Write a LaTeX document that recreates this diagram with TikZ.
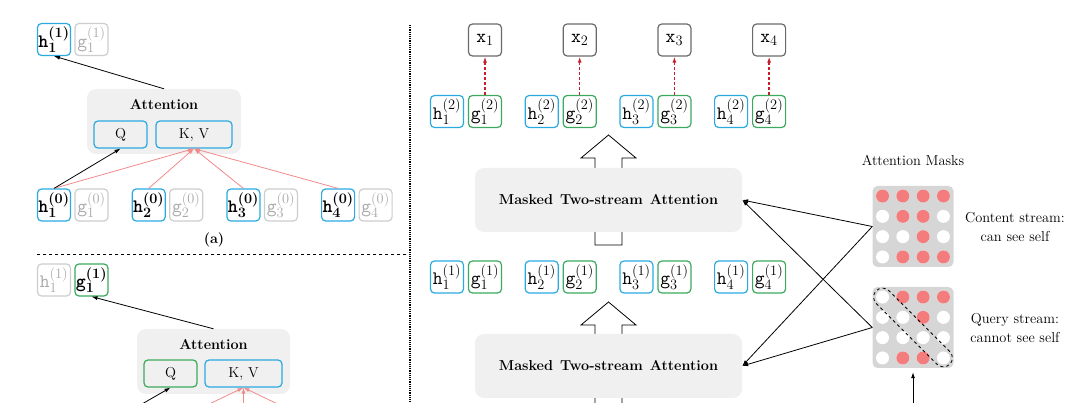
\documentclass[tikz,border=0pt]{standalone}
\usepackage{xcolor}
\usepackage{tikz}
\usetikzlibrary{arrows.meta}

\definecolor{hblue}{HTML}{2AAAE0}
\definecolor{ggreen}{HTML}{3BAA5E}
\definecolor{offline}{HTML}{CDCDCD}
\definecolor{offtext}{HTML}{A8A8A8}
\definecolor{xgray}{HTML}{6A6A6A}
\definecolor{attnfill}{HTML}{F0F0F0}
\definecolor{maskfill}{HTML}{D6D6D6}
\definecolor{maskred}{HTML}{F47C7C}
\definecolor{kvred}{HTML}{F28A8A}
\definecolor{xred}{HTML}{C8202A}

\newcommand{\tk}[3]{$\texttt{#1}_{#2}^{(#3)}$}
\newcommand{\btk}[3]{{\bfseries\boldmath\tk{#1}{#2}{#3}}}

\tikzset{
	tok/.style={draw, rounded corners=4pt, line width=1.2pt, minimum width=33pt, minimum height=32pt, inner sep=0pt, font=\fontsize{19}{19}\selectfont},
	hbox/.style={tok, draw=hblue},
	gbox/.style={tok, draw=ggreen},
	offbox/.style={tok, draw=offline, text=offtext},
	xbox/.style={tok, draw=xgray},
	attnbox/.style={fill=attnfill, rounded corners=9pt, inner sep=0pt},
	qkv/.style={draw, rounded corners=4pt, line width=1.2pt, minimum height=27pt, inner sep=0pt, font=\fontsize{14.4}{17}\selectfont},
	arr/.style={-{Latex[length=6pt,width=4pt]}, line width=0.8pt},
	maskbox/.style={fill=maskfill, rounded corners=5pt, minimum width=81pt, minimum height=81pt, inner sep=0pt},
	big/.style={font=\fontsize{14.4}{19}\selectfont},
	bigbf/.style={font=\bfseries\fontsize{14.4}{17}\selectfont},
}

\begin{document}
\begin{tikzpicture}[x=1pt,y=-1pt]
\clip (0,0) rectangle (1080,403);

% (a) content stream
\foreach \i in {1,...,4}{
	\node[hbox] (ha\i) at ({54+(\i-1)*94.7},205) {\btk{h}{\i}{0}};
	\node[offbox] (ga\i) at ({91.5+(\i-1)*94.7},205) {\tk{g}{\i}{0}};
}
\node[hbox] (hta) at (54,39.5) {\btk{h}{1}{1}};
\node[offbox] (gta) at (91.5,39.5) {\tk{g}{1}{1}};

\node[attnbox, minimum width=154pt, minimum height=65pt] (atta) at (164,121.5) {};
\node[bigbf] (atta-t) at (164,105) {Attention};
\node[qkv, draw=hblue, minimum width=53pt] (qa) at (120.5,134.5) {Q};
\node[qkv, draw=hblue, minimum width=76pt] (kva) at (194,134.5) {K, V};

\draw[arr] (atta.north) -- (hta.south);
\foreach \i in {1,...,4}
	\draw[arr, kvred] (ha\i.north) -- (kva.south);
\draw[arr] (ha1.north) -- (qa.south);

\node[bigbf] (capa) at (214,240) {(a)};

\draw[dashed, line width=0.8pt] (37,254) -- (410,254);
\draw[densely dotted, line width=1.2pt] (410,25) -- (410,403);

% (b) query stream
\node[offbox] (htb) at (54,280) {\tk{h}{1}{1}};
\node[gbox] (gtb) at (91.5,280) {\btk{g}{1}{1}};

\node[attnbox, minimum width=153pt, minimum height=65pt] (attb) at (213.5,361.5) {};
\node[bigbf] (attb-t) at (213.5,345) {Attention};
\node[qkv, draw=ggreen, minimum width=53pt] (qb) at (170.5,373.5) {Q};
\node[qkv, draw=hblue, minimum width=77pt] (kvb) at (243.5,373.5) {K, V};

\coordinate (gin) at (91.5,433);
\foreach \i in {2,3,4}
	\coordinate (hin\i) at ({54+(\i-1)*94.7},433);

\draw[arr] (attb.north) -- (gtb.south);
\draw[arr] (gin) -- (qb.south);
\foreach \i in {2,3,4}
	\draw[arr, kvred] (hin\i) -- (kvb.south);

% (c) two-stream stack
\foreach \tip/\tail in {135/245, 302/425}
	\draw[line width=0.8pt] (595,\tail) -- (595,\tip+23) -- (581,\tip+23) -- (608.5,\tip)
		-- (636,\tip+23) -- (622,\tip+23) -- (622,\tail) -- cycle;

\node[attnbox, minimum width=267pt, minimum height=64pt, bigbf] (mta) at (608.5,200)
	{Masked\hspace{7pt}Two-stream\hspace{7pt}Attention};
\node[attnbox, minimum width=267pt, minimum height=64pt, bigbf] (mtb) at (608.5,366)
	{Masked\hspace{7pt}Two-stream\hspace{7pt}Attention};

\foreach \i in {1,...,4}{
	\node[xbox] (x\i) at ({485+(\i-1)*94.7},40) {$\texttt{x}_{\i}$};
	\node[hbox] (ht\i) at ({447+(\i-1)*94.7},111.5) {\tk{h}{\i}{2}};
	\node[gbox] (gt\i) at ({485+(\i-1)*94.7},111.5) {\tk{g}{\i}{2}};
	\node[hbox] (hm\i) at ({447+(\i-1)*94.7},277) {\tk{h}{\i}{1}};
	\node[gbox] (gm\i) at ({485+(\i-1)*94.7},277) {\tk{g}{\i}{1}};
	\draw[arr, xred, dash pattern=on 3pt off 2pt, line width=1.4pt] (gt\i.north) -- (x\i.south);
}

% masks
\node[big] (mtitle) at (913,160) {Attention Masks};
\node[maskbox] (cm) at (913,226.5) {};
\node[maskbox] (qm) at (913,327.5) {};

\foreach \r in {1,...,4}
	\foreach \c in {1,...,4}{
		\fill[white] ({913+(\c-2.5)*20.3},{226.5+(\r-2.5)*20.3}) circle[radius=6.5pt];
		\fill[white] ({913+(\c-2.5)*20.3},{327.5+(\r-2.5)*20.3}) circle[radius=6.5pt];
	}
\foreach \c/\r in {1/1,2/1,3/1,4/1,2/2,3/2,3/3,2/4,3/4,4/4}
	\fill[maskred] ({913+(\c-2.5)*20.3},{226.5+(\r-2.5)*20.3}) circle[radius=6.5pt];
\foreach \c/\r in {2/1,3/1,4/1,3/2,2/4,3/4}
	\fill[maskred] ({913+(\c-2.5)*20.3},{327.5+(\r-2.5)*20.3}) circle[radius=6.5pt];

\node[draw, dashed, line width=0.8pt, rounded corners=9pt, minimum width=104pt,
	minimum height=18pt, rotate=-45] (diag) at (qm.center) {};

\node[big, align=center] (cmtext) at (1015,227) {Content stream:\\can see self};
\node[big, align=center] (qmtext) at (1015,328) {Query stream:\\cannot see self};

\foreach \m in {cm,qm}{
	\draw[arr] (\m.west) -- (mta.east);
	\draw[arr] (\m.west) -- (mtb.east);
}
\coordinate (qin) at (913,425);
\draw[arr, shorten >=4pt] (qin) -- (qm.south);

\end{tikzpicture}
\end{document}
